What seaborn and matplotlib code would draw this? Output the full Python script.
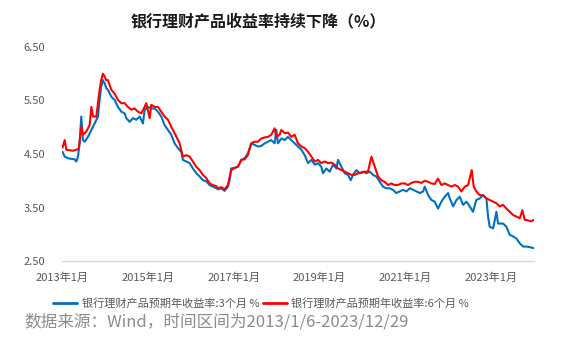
import matplotlib
matplotlib.use("Agg")
import matplotlib.pyplot as plt
import pandas as pd
import seaborn as sns

# 3-month expected annual yield (%)
dates_3m = [
    "2013-01-06", "2013-01-24", "2013-02-21", "2013-03-21", "2013-04-18", "2013-05-03",
    "2013-05-17", "2013-05-31", "2013-06-14", "2013-06-28", "2013-07-13", "2013-08-10",
    "2013-09-08", "2013-10-06", "2013-11-03", "2013-11-17", "2013-12-01", "2013-12-15",
    "2013-12-30", "2014-01-13", "2014-01-27", "2014-02-25", "2014-03-25", "2014-04-22",
    "2014-05-21", "2014-06-18", "2014-07-02", "2014-07-31", "2014-08-28", "2014-09-25",
    "2014-10-24", "2014-11-21", "2014-12-05", "2015-01-03", "2015-01-31", "2015-03-01",
    "2015-03-29", "2015-04-26", "2015-05-24", "2015-06-22", "2015-07-20", "2015-08-17",
    "2015-09-15", "2015-10-13", "2015-10-27", "2015-11-24", "2015-12-23", "2016-01-20",
    "2016-02-18", "2016-03-17", "2016-04-14", "2016-05-13", "2016-06-10", "2016-07-08",
    "2016-08-06", "2016-08-20", "2016-09-18", "2016-10-16", "2016-11-13", "2016-11-27",
    "2016-12-11", "2017-01-10", "2017-02-07", "2017-03-07", "2017-04-04", "2017-05-02",
    "2017-05-31", "2017-06-28", "2017-07-27", "2017-08-24", "2017-09-22", "2017-10-20",
    "2017-11-17", "2017-12-16", "2017-12-30", "2018-01-13", "2018-02-11", "2018-03-11",
    "2018-04-08", "2018-05-07", "2018-06-04", "2018-07-02", "2018-07-31", "2018-08-28",
    "2018-09-26", "2018-10-24", "2018-11-22", "2018-12-20", "2019-01-17", "2019-01-31",
    "2019-03-01", "2019-03-29", "2019-04-27", "2019-05-25", "2019-06-08", "2019-07-07",
    "2019-08-04", "2019-09-01", "2019-09-24", "2019-10-14", "2019-11-11", "2019-12-09",
    "2020-01-07", "2020-02-04", "2020-03-04", "2020-04-01", "2020-04-29", "2020-05-28",
    "2020-06-25", "2020-07-23", "2020-08-21", "2020-09-18", "2020-10-16", "2020-11-14",
    "2020-12-12", "2021-01-10", "2021-02-08", "2021-03-08", "2021-04-05", "2021-05-04",
    "2021-06-01", "2021-06-15", "2021-07-14", "2021-08-11", "2021-09-08", "2021-10-06",
    "2021-11-04", "2021-12-02", "2021-12-31", "2022-01-14", "2022-02-12", "2022-03-12",
    "2022-04-09", "2022-05-08", "2022-06-05", "2022-07-03", "2022-07-31", "2022-08-28",
    "2022-09-26", "2022-10-24", "2022-11-22", "2022-12-06", "2022-12-20", "2023-01-18",
    "2023-02-15", "2023-03-01", "2023-04-13", "2023-05-11", "2023-06-09", "2023-07-07",
    "2023-08-04", "2023-09-02", "2023-09-30", "2023-10-28", "2023-11-25", "2023-12-29",
]
rate_3m = [
    4.54, 4.45, 4.42, 4.41, 4.40, 4.36,
    4.45, 4.71, 5.20, 4.76, 4.73, 4.82,
    4.95, 5.07, 5.20, 5.51, 5.76, 5.88,
    5.82, 5.73, 5.70, 5.57, 5.51, 5.38,
    5.29, 5.26, 5.17, 5.10, 5.17, 5.14,
    5.20, 5.07, 5.32, 5.38, 5.35, 5.35,
    5.29, 5.20, 5.04, 4.95, 4.86, 4.70,
    4.61, 4.54, 4.39, 4.36, 4.33, 4.23,
    4.14, 4.08, 4.01, 3.99, 3.92, 3.89,
    3.86, 3.84, 3.86, 3.81, 3.89, 4.01,
    4.23, 4.24, 4.26, 4.39, 4.42, 4.51,
    4.70, 4.67, 4.64, 4.65, 4.70, 4.73,
    4.76, 4.70, 4.95, 4.70, 4.79, 4.76,
    4.82, 4.76, 4.70, 4.64, 4.58, 4.48,
    4.33, 4.39, 4.30, 4.33, 4.26, 4.14,
    4.23, 4.17, 4.30, 4.23, 4.39, 4.26,
    4.14, 4.11, 4.01, 4.11, 4.20, 4.14,
    4.17, 4.14, 4.17, 4.11, 4.08, 3.98,
    3.89, 3.86, 3.86, 3.83, 3.77, 3.80,
    3.83, 3.80, 3.86, 3.83, 3.80, 3.77,
    3.80, 3.89, 3.73, 3.64, 3.61, 3.48,
    3.61, 3.70, 3.77, 3.67, 3.52, 3.64,
    3.70, 3.55, 3.61, 3.52, 3.42, 3.64,
    3.67, 3.73, 3.67, 3.33, 3.14, 3.11,
    3.42, 3.20, 3.20, 3.14, 2.99, 2.96,
    2.92, 2.83, 2.77, 2.77, 2.76, 2.74,
]

# 6-month expected annual yield (%)
dates_6m = [
    "2013-01-06", "2013-01-24", "2013-02-07", "2013-03-07", "2013-04-04", "2013-05-03",
    "2013-05-24", "2013-06-14", "2013-06-28", "2013-07-27", "2013-08-24", "2013-09-08",
    "2013-09-22", "2013-10-20", "2013-11-03", "2013-11-17", "2013-12-01", "2013-12-15",
    "2013-12-30", "2014-01-13", "2014-01-27", "2014-02-25", "2014-03-25", "2014-04-22",
    "2014-05-21", "2014-06-18", "2014-07-16", "2014-08-14", "2014-09-11", "2014-10-10",
    "2014-11-07", "2014-12-05", "2014-12-19", "2015-01-17", "2015-01-31", "2015-03-01",
    "2015-03-29", "2015-04-26", "2015-05-24", "2015-06-22", "2015-07-20", "2015-08-17",
    "2015-09-15", "2015-09-29", "2015-10-27", "2015-11-24", "2015-12-23", "2016-01-20",
    "2016-02-18", "2016-03-17", "2016-04-14", "2016-05-13", "2016-06-10", "2016-07-08",
    "2016-08-06", "2016-08-20", "2016-09-18", "2016-10-16", "2016-11-13", "2016-12-11",
    "2017-01-10", "2017-02-07", "2017-03-07", "2017-04-04", "2017-05-02", "2017-05-31",
    "2017-06-28", "2017-07-27", "2017-08-24", "2017-09-22", "2017-10-20", "2017-11-17",
    "2017-12-16", "2017-12-30", "2018-01-27", "2018-02-11", "2018-03-11", "2018-04-08",
    "2018-05-07", "2018-06-04", "2018-07-02", "2018-07-31", "2018-08-28", "2018-09-26",
    "2018-10-24", "2018-11-22", "2018-12-20", "2019-01-17", "2019-02-15", "2019-03-15",
    "2019-04-12", "2019-05-11", "2019-06-08", "2019-07-07", "2019-08-04", "2019-09-01",
    "2019-09-30", "2019-10-28", "2019-11-25", "2019-12-23", "2020-01-21", "2020-02-18",
    "2020-03-18", "2020-04-10", "2020-04-29", "2020-05-14", "2020-06-11", "2020-07-09",
    "2020-08-07", "2020-09-04", "2020-10-02", "2020-10-31", "2020-11-28", "2020-12-26",
    "2021-01-24", "2021-02-22", "2021-03-22", "2021-04-19", "2021-05-18", "2021-06-15",
    "2021-07-14", "2021-08-11", "2021-09-08", "2021-10-06", "2021-11-04", "2021-12-02",
    "2021-12-31", "2022-01-28", "2022-02-26", "2022-03-26", "2022-04-23", "2022-05-22",
    "2022-06-19", "2022-07-20", "2022-08-06", "2022-08-28", "2022-09-26", "2022-10-24",
    "2022-11-22", "2022-12-20", "2023-01-18", "2023-02-15", "2023-03-15", "2023-04-13",
    "2023-05-11", "2023-06-09", "2023-07-07", "2023-08-04", "2023-09-02", "2023-09-24",
    "2023-10-14", "2023-11-11", "2023-12-09", "2023-12-29",
]
rate_6m = [
    4.62, 4.76, 4.58, 4.57, 4.56, 4.58,
    4.60, 5.01, 4.86, 4.92, 5.04, 5.38,
    5.20, 5.20, 5.45, 5.70, 5.88, 6.00,
    5.95, 5.88, 5.88, 5.70, 5.63, 5.51,
    5.45, 5.45, 5.38, 5.33, 5.35, 5.29,
    5.26, 5.38, 5.45, 5.17, 5.42, 5.38,
    5.38, 5.29, 5.20, 5.14, 5.01, 4.89,
    4.76, 4.70, 4.45, 4.48, 4.45, 4.36,
    4.26, 4.20, 4.11, 4.05, 3.95, 3.92,
    3.90, 3.86, 3.88, 3.84, 3.92, 4.20,
    4.24, 4.27, 4.39, 4.40, 4.48, 4.70,
    4.73, 4.73, 4.79, 4.81, 4.82, 4.86,
    4.98, 4.82, 4.86, 4.95, 4.89, 4.90,
    4.82, 4.86, 4.70, 4.64, 4.61, 4.54,
    4.45, 4.36, 4.39, 4.33, 4.36, 4.33,
    4.34, 4.30, 4.23, 4.20, 4.17, 4.14,
    4.11, 4.11, 4.14, 4.15, 4.17, 4.17,
    4.45, 4.30, 4.17, 4.08, 4.01, 3.98,
    3.92, 3.95, 3.92, 3.92, 3.95, 3.95,
    3.92, 3.96, 3.98, 3.98, 3.96, 4.00,
    3.98, 3.95, 3.94, 4.04, 3.92, 3.95,
    3.92, 3.89, 3.92, 3.89, 3.80, 3.89,
    3.92, 4.20, 3.89, 3.80, 3.73, 3.73,
    3.67, 3.64, 3.61, 3.58, 3.52, 3.55,
    3.48, 3.42, 3.36, 3.33, 3.30, 3.45,
    3.27, 3.26, 3.24, 3.27,
]

series_names = ["银行理财产品预期年收益率:3个月 %", "银行理财产品预期年收益率:6个月 %"]
series_colors = ["#0070C0", "#FF0000"]
y_ticks = [2.5, 3.5, 4.5, 5.5, 6.5]
x_tick_years = [2013, 2015, 2017, 2019, 2021, 2023]

title_text = "银行理财产品收益率持续下降（%）"
source_text = "数据来源：Wind，时间区间为2013/1/6-2023/12/29"

df = pd.concat([
    pd.DataFrame({"date": pd.to_datetime(dates_3m), "rate": rate_3m, "series": series_names[0]}),
    pd.DataFrame({"date": pd.to_datetime(dates_6m), "rate": rate_6m, "series": series_names[1]}),
], ignore_index=True)

sns.set_theme(style="white")
plt.rcParams["font.family"] = ["Noto Sans CJK SC", "DejaVu Sans"]

fig = plt.figure(figsize=(5.7, 3.38), dpi=100)
ax = fig.add_axes([62 / 570, 1 - 261 / 338, (534 - 62) / 570, (261 - 47) / 338])

sns.lineplot(data=df, x="date", y="rate", hue="series", hue_order=series_names,
             palette=series_colors, linewidth=1.5, ax=ax, legend=False)

ax.set_xlim(pd.Timestamp("2013-01-01"), pd.Timestamp("2024-01-01"))
ax.set_ylim(y_ticks[0], y_ticks[-1])
ax.set_yticks(y_ticks)
ax.set_yticklabels([f"{v:.2f}" for v in y_ticks])
ax.set_xticks([pd.Timestamp(f"{y}-01-01") for y in x_tick_years])
ax.set_xticklabels([f"{y}年1月" for y in x_tick_years])
ax.set_xlabel("")
ax.set_ylabel("")

for side in ["left", "right", "top"]:
    ax.spines[side].set_visible(False)
ax.spines["bottom"].set_color("#d9d9d9")
ax.spines["bottom"].set_linewidth(1.0)
ax.tick_params(axis="x", direction="in", length=4, width=1, color="#d9d9d9",
               labelsize=8, labelcolor="#595959", pad=8)
ax.tick_params(axis="y", length=0, labelsize=8, labelcolor="#595959", pad=12)
ax.grid(False)

fig.text(258 / 570, 1 - 21 / 338, title_text, ha="center", va="center",
         fontsize=11.5, fontweight="bold", color="#1a1a1a")

handles = [plt.Line2D([], [], color=c, linewidth=2) for c in series_colors]
fig.legend(handles, series_names, loc="center", bbox_to_anchor=(261 / 570, 1 - 303 / 338),
           ncol=2, frameon=False, fontsize=8, labelcolor="#595959",
           handlelength=2.2, handletextpad=0.4, columnspacing=0.3)

fig.text(24 / 570, 1 - 322 / 338, source_text, ha="left", va="center",
         fontsize=12, color="#8c8c8c")

fig.savefig("out.png", dpi=100)
